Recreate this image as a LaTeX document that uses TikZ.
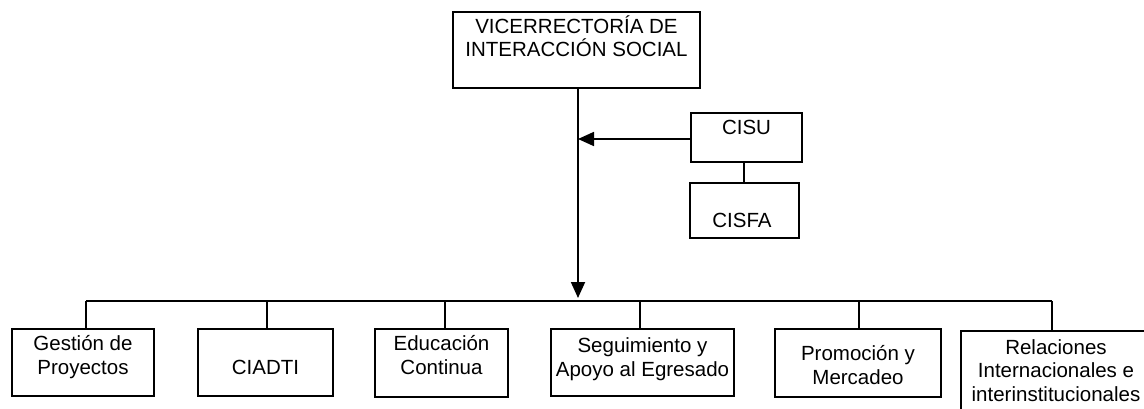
\documentclass[tikz,border=0pt]{standalone}
\usepackage{fontspec}
\setmainfont{Liberation Sans}
\usetikzlibrary{arrows.meta}
\begin{document}
\begin{tikzpicture}[x=1pt,y=-1pt,
  box/.style={draw=black,line width=1.7pt,inner sep=0pt,fill=white},
  txt/.style={inner sep=0pt,anchor=base,align=center,font=\fontsize{20.5}{23.5}\selectfont},
  conn/.style={line width=1.8pt,draw=black},
  arr/.style={conn,-{Triangle[width=14pt,length=16pt]}}]
\useasboundingbox (0,0) rectangle (1144,409);
% boxes
\node[box,minimum width=247pt,minimum height=76pt] (top) at (576.5,50) {};
\node[box,minimum width=111pt,minimum height=49pt] (cisu) at (746.5,137.5) {};
\node[box,minimum width=109pt,minimum height=55pt] (cisfa) at (744.5,210.5) {};
\node[box,minimum width=142pt,minimum height=67pt] (b1) at (83,362.5) {};
\node[box,minimum width=135pt,minimum height=67pt] (b2) at (265.5,362.5) {};
\node[box,minimum width=133pt,minimum height=68pt] (b3) at (441.5,363) {};
\node[box,minimum width=183pt,minimum height=67pt] (b4) at (642.5,362.5) {};
\node[box,minimum width=166pt,minimum height=68pt] (b5) at (858,363) {};
\node[box,minimum width=190pt,minimum height=90pt] (b6) at (1056,376) {};
% texts (base anchor = baseline of the last line)
\node[txt] (ttop) at (576.5,57) {VICERRECTORÍA DE\\INTERACCIÓN SOCIAL};
\node[txt] (tcisu) at (746.5,135) {CISU};
\node[txt] (tcisfa) at (742,227) {CISFA};
\node[txt] (tb1) at (83,374) {Gestión de\\Proyectos};
\node[txt] (tb2) at (265.5,374) {CIADTI};
\node[txt] (tb3) at (441.5,374) {Educación\\Continua};
\node[txt] (tb4) at (642.5,376) {Seguimiento y\\Apoyo al Egresado};
\node[txt] (tb5) at (858,384) {Promoción y\\Mercadeo};
\node[txt] (tb6) at (1056,401) {Relaciones\\Internacionales e\\interinstitucionales};
% connectors
\coordinate (tip) at (578,298);
\coordinate (side) at (578,139);
\coordinate (busL) at (86,301);
\coordinate (busR) at (1052,301);
\draw[arr] (top.south -| tip) -- (tip);
\draw[arr] (cisu.west |- side) -- (side);
\draw[conn] (cisu.south -| 744,0) -- (cisfa.north -| 744,0);
\draw[conn] (busL) -- (busR);
\draw[conn] (busL) -- (b1.north -| busL);
\draw[conn] (267,301) -- (b2.north -| 267,0);
\draw[conn] (445,301) -- (b3.north -| 445,0);
\draw[conn] (640,301) -- (b4.north -| 640,0);
\draw[conn] (859,301) -- (b5.north -| 859,0);
\draw[conn] (busR) -- (b6.north -| busR);
\end{tikzpicture}
\end{document}
